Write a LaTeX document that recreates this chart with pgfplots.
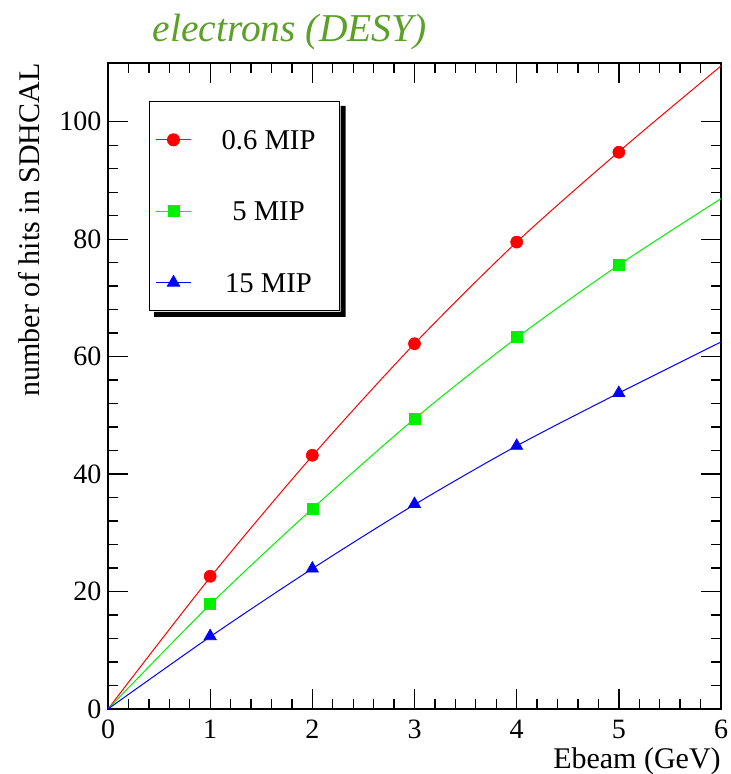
\documentclass[border=0pt]{standalone}
\usepackage{fontspec}
\setmainfont{Liberation Serif}
\usepackage{pgfplots}
\pgfplotsset{compat=1.18}
\definecolor{titlegreen}{RGB}{92,160,40}
\definecolor{mgreen}{RGB}{0,240,0}
\definecolor{mred}{RGB}{255,0,0}
\definecolor{mblue}{RGB}{0,0,255}
\begin{document}
\begin{tikzpicture}
\begin{axis}[name=ax, at={(0,0)}, anchor=south west, scale only axis,
  width=367.8pt, height=387.6pt,
  xmin=0, xmax=6, ymin=0, ymax=110,
  xtick={0,1,...,6}, ytick={0,20,...,100},
  minor x tick num=4, minor y tick num=4,
  tick align=inside, major tick length=12pt, minor tick length=6pt,
  axis line style={line width=0.8pt},
  every tick/.style={black, line width=0.8pt},
  /pgf/number format/assume math mode=true,
  tick label style={font=\fontsize{16.8}{20}\selectfont},
  x tick label style={anchor=base, yshift=-17.4pt},
  y tick label style={anchor=east, inner sep=0pt, xshift=-3.8pt},
  legend cell align=left,
  legend image code/.code={%
    \draw[#1, overlay] (0pt,0pt) -- (21pt,0pt);
    \draw[#1, only marks, overlay] plot coordinates {(10.5pt,0pt)};
    \path (0pt,0pt) (21pt,11.5pt);},
  legend style={name=leg, at={(rel axis cs:0,1)}, anchor=north west, xshift=24.6pt, yshift=-22.8pt,
    draw=black, line width=0.6pt, fill=white,
    inner xsep=3.6pt, inner ysep=11.2pt, row sep=25.3pt, column sep=17.4pt,
    nodes={inner sep=0pt, text height=11.5pt, text depth=0pt, font=\fontsize{17.2}{20}\selectfont}},
]
% fit lines
\addplot[mred, line width=0.6pt, smooth, forget plot] coordinates {(0,0) (1,22.4) (2,43.1) (3,62.2) (4,79.5) (5,94.9) (6,109.5)};
\addplot[mgreen, line width=0.6pt, smooth, forget plot] coordinates {(0,0) (1,17.8) (2,34.1) (3,49.4) (4,63.2) (5,75.6) (6,86.9)};
\addplot[mblue, line width=0.6pt, smooth, forget plot] coordinates {(0,0) (1,12.3) (2,23.9) (3,34.8) (4,44.8) (5,53.8) (6,62.5)};
% data points
\addplot[mred, only marks, mark=*, mark size=3.6pt, forget plot] coordinates {(1,22.6) (2,43.2) (3,62.2) (4,79.5) (5,94.8)};
\addplot[mgreen, only marks, mark=square*, mark size=3.3pt, forget plot] coordinates {(1,17.9) (2,34.1) (3,49.4) (4,63.3) (5,75.6)};
\addplot[mblue, only marks, mark=triangle*, mark size=4.2pt, forget plot] coordinates {(1,12.4) (2,23.9) (3,34.9) (4,44.8) (5,53.8)};
% legend
\addlegendimage{mred, line width=0.6pt, mark=*, mark size=3.6pt}
\addlegendentry{\makebox[67.8pt][l]{\makebox[57.6pt][c]{0.6 MIP}}}
\addlegendimage{mgreen, line width=0.6pt, mark=square*, mark size=3.3pt}
\addlegendentry{\makebox[67.8pt][l]{\makebox[57.6pt][c]{5 MIP}}}
\addlegendimage{mblue, line width=0.6pt, mark=triangle*, mark size=4.2pt}
\addlegendentry{\makebox[67.8pt][l]{\makebox[57.6pt][c]{15 MIP}}}
\end{axis}
% legend shadow (visible L-shaped strip)
\fill[black] ([shift={(0.3pt,-3pt)}]leg.north east) -- ([shift={(3.3pt,-3pt)}]leg.north east)
  -- ([shift={(3.3pt,-3.3pt)}]leg.south east) -- ([shift={(3pt,-3.3pt)}]leg.south west)
  -- ([shift={(3pt,-0.3pt)}]leg.south west) -- ([shift={(0.3pt,-0.3pt)}]leg.south east) -- cycle;
\node[anchor=base, font=\fontsize{23.7}{28}\selectfont\itshape, text=titlegreen, inner sep=0pt]
  at ([xshift=109pt, yshift=12.6pt]ax.north west) {electrons (DESY)};
\node[anchor=base east, font=\fontsize{18}{21}\selectfont, inner sep=0pt]
  at ([yshift=-35.4pt]ax.south east) {Ebeam (GeV)};
\node[anchor=base east, rotate=90, font=\fontsize{18}{21}\selectfont, inner sep=0pt]
  at ([xshift=-40.8pt]ax.north west) {number of hits in SDHCAL};
\pgfresetboundingbox
\path[use as bounding box] ([xshift=-64.8pt, yshift=-39pt]ax.south west) rectangle ([xshift=5.4pt, yshift=37.8pt]ax.north east);
\end{tikzpicture}
\end{document}
